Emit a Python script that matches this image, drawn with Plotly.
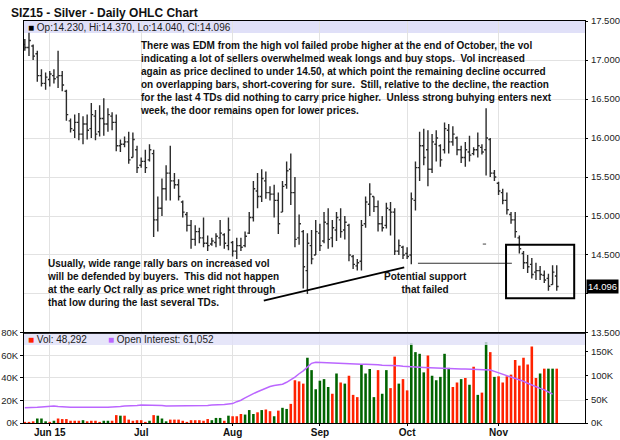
import numpy as np
import pandas as pd
import plotly.graph_objects as go

# ---------------- trading calendar ----------------
holidays = ["2015-05-25", "2015-07-03", "2015-09-07"]
dates = pd.bdate_range("2015-05-21", "2015-11-20", freq="C", holidays=holidays)

# ---------------- SIZ15 daily prices ----------------
open_ = [17.20, 17.16, 17.18, 17.08, 16.80, 16.70, 16.75, 16.80, 16.78, 16.80,
         16.60, 16.22, 16.10, 16.20, 16.05, 16.18, 16.12, 16.28, 16.08, 16.25,
         16.18, 16.28, 16.20, 15.90, 15.92, 15.95, 15.75, 15.85, 15.65, 15.70,
         15.72, 15.80, 14.95, 15.10, 15.35, 15.55, 15.45, 15.40, 15.18, 15.02,
         14.88, 14.70, 14.80, 14.72, 14.65, 14.64, 14.66, 14.72, 14.76, 14.62,
         14.66, 14.55, 14.62, 14.62, 14.78, 14.98, 15.32, 15.25, 15.45, 15.30,
         15.28, 15.20, 15.05, 15.40, 15.60, 15.30, 14.72, 14.80, 14.30, 14.62,
         14.50, 14.78, 14.68, 14.90, 14.72, 14.82, 14.95, 14.82, 14.88, 14.48,
         14.36, 14.42, 14.90, 15.15, 15.25, 15.12, 14.90, 14.88, 15.08, 15.05,
         14.55, 14.60, 14.52, 14.50, 15.20, 15.62, 15.90, 15.85, 15.60, 15.92,
         15.90, 15.85, 16.10, 15.95, 16.00, 15.85, 15.75, 15.82, 15.80, 15.85,
         15.88, 15.85, 15.98, 15.55, 15.42, 15.30, 15.20, 15.02, 14.95, 14.72,
         14.52, 14.40, 14.38, 14.28, 14.30, 14.24, 14.20, 14.12, 14.23]
high = [17.27, 17.35, 17.20, 17.12, 16.88, 16.84, 16.86, 16.88, 17.12, 16.86,
        16.62, 16.25, 16.30, 16.32, 16.28, 16.30, 16.45, 16.36, 16.42, 16.51,
        16.38, 16.33, 16.30, 15.98, 16.02, 16.08, 16.07, 15.90, 15.75, 15.85,
        15.92, 15.85, 15.25, 15.48, 15.65, 15.90, 15.55, 15.47, 15.20, 15.05,
        14.95, 14.88, 14.85, 14.98, 14.75, 14.72, 14.78, 14.95, 14.78, 14.98,
        14.68, 14.72, 14.72, 14.80, 15.05, 15.45, 15.55, 15.60, 15.57, 15.38,
        15.40, 15.30, 15.45, 15.70, 15.80, 15.50, 15.02, 14.82, 14.78, 14.82,
        14.95, 14.90, 15.05, 15.10, 14.95, 15.05, 15.10, 15.00, 14.90, 14.50,
        14.45, 14.95, 15.25, 15.42, 15.25, 15.20, 15.00, 15.17, 15.18, 15.10,
        14.70, 14.62, 14.60, 15.30, 15.70, 16.08, 16.12, 16.10, 16.05, 16.10,
        15.92, 16.20, 16.18, 16.15, 16.02, 15.90, 15.95, 16.03, 15.88, 16.07,
        15.92, 16.38, 16.00, 15.59, 15.44, 15.35, 15.30, 15.05, 15.05, 14.75,
        14.55, 14.50, 14.46, 14.40, 14.36, 14.30, 14.26, 14.37, 14.37]
low = [17.12, 17.05, 17.00, 16.72, 16.66, 16.62, 16.66, 16.70, 16.64, 16.60,
       16.22, 16.07, 16.00, 15.97, 15.92, 15.98, 16.00, 15.97, 16.02, 16.03,
       16.08, 16.10, 15.83, 15.82, 15.88, 15.67, 15.75, 15.55, 15.62, 15.55,
       15.70, 14.73, 14.80, 15.00, 15.20, 15.20, 15.35, 15.20, 14.98, 14.80,
       14.58, 14.62, 14.65, 14.60, 14.55, 14.62, 14.60, 14.62, 14.58, 14.56,
       14.48, 14.45, 14.55, 14.60, 14.77, 14.93, 15.10, 15.18, 15.22, 15.20,
       14.98, 14.77, 15.05, 15.35, 15.14, 14.60, 14.63, 14.07, 14.00, 14.38,
       14.50, 14.55, 14.65, 14.58, 14.60, 14.68, 14.72, 14.70, 14.42, 14.32,
       14.30, 14.30, 14.85, 15.00, 15.05, 14.80, 14.80, 14.84, 14.75, 14.50,
       14.50, 14.45, 14.45, 14.38, 15.07, 15.45, 15.65, 15.38, 15.55, 15.70,
       15.63, 15.80, 15.80, 15.90, 15.78, 15.68, 15.63, 15.70, 15.78, 15.75,
       15.79, 15.52, 15.50, 15.45, 15.27, 15.15, 15.02, 14.90, 14.72, 14.52,
       14.32, 14.27, 14.20, 14.18, 14.18, 14.14, 14.04, 14.12, 14.04]
close = [17.16, 17.25, 17.05, 16.80, 16.70, 16.78, 16.82, 16.76, 16.80, 16.68,
         16.30, 16.12, 16.20, 16.05, 16.18, 16.10, 16.30, 16.05, 16.25, 16.18,
         16.30, 16.20, 15.90, 15.92, 15.95, 15.72, 15.98, 15.62, 15.70, 15.62,
         15.85, 14.95, 15.10, 15.35, 15.55, 15.45, 15.40, 15.25, 15.05, 14.88,
         14.70, 14.80, 14.72, 14.65, 14.62, 14.68, 14.74, 14.78, 14.65, 14.82,
         14.55, 14.62, 14.60, 14.74, 14.98, 15.35, 15.25, 15.48, 15.30, 15.28,
         15.20, 14.90, 15.38, 15.58, 15.30, 14.70, 14.90, 14.35, 14.65, 14.45,
         14.80, 14.62, 14.92, 14.70, 14.85, 14.98, 14.80, 14.92, 14.50, 14.38,
         14.40, 14.88, 15.18, 15.28, 15.12, 14.90, 14.85, 15.10, 15.05, 14.55,
         14.62, 14.50, 14.48, 15.22, 15.62, 15.90, 15.75, 15.60, 15.95, 16.00,
         15.72, 16.12, 15.95, 16.05, 15.85, 15.75, 15.85, 15.78, 15.85, 15.90,
         15.82, 16.00, 15.55, 15.50, 15.32, 15.20, 15.08, 14.95, 14.80, 14.58,
         14.40, 14.35, 14.25, 14.30, 14.25, 14.18, 14.10, 14.28, 14.096]

# ---------------- volume (thousands of contracts) ----------------
vol_k = [1.0, 1.0, 1.5, 4.0, 4.0, 1.5, 1.0, 2.0, 4.0, 3.5,
         3.5, 2.0, 2.0, 2.0, 2.5, 1.5, 2.0, 2.0, 1.0, 2.0,
         2.0, 2.0, 7.0, 6.5, 6.5, 3.0, 2.0, 2.5, 2.5, 1.0,
         2.0, 7.0, 6.5, 4.0, 1.5, 3.0, 3.0, 3.0, 2.0, 1.0,
         2.5, 2.5, 2.5, 2.0, 3.5, 2.5, 4.5, 4.5, 2.0, 6.5,
         6.0, 6.0, 8.0, 7.5, 11.5, 8.0, 9.5, 11.5, 12.0, 10.5,
         6.0, 11.0, 13.5, 12.5, 17.0, 38.0, 37.0, 35.0, 58.0, 47.0,
         30.0, 37.6, 39.0, 32.0, 26.0, 44.0, 36.0, 35.0, 42.0, 25.0,
         23.0, 52.0, 44.0, 48.0, 23.0, 47.0, 26.0, 47.0, 31.0, 59.0,
         35.0, 39.0, 29.0, 71.0, 63.0, 61.5, 45.0, 60.0, 42.0, 38.0,
         41.0, 61.5, 49.0, 32.0, 36.0, 39.0, 40.0, 34.0, 50.0, 25.0,
         27.0, 72.0, 63.0, 41.0, 41.5, 36.0, 41.5, 43.0, 56.0, 51.0,
         58.0, 52.0, 68.0, 40.0, 44.0, 48.3, 48.3, 48.3, 48.292]
# g = up day, r = down day
vol_dir = list("rrrgggrgrr" "rrrrgrrrrg" "grrgrrrrrr" "grgggrrrrr"
               "rrrrrgggrg" "rrrgggrgrr" "grggrrrrgg" "ggggrgrgrr"
               "rggggrggrr" "grrggggrgg" "gggrrgrgrg" "rgrgrrrrrr"
               "rrrrgrggr")

# ---------------- open interest (thousands) ----------------
oi_k = [32, 32, 32, 33, 34, 35, 36, 36, 35, 34, 33,
        33, 33, 33, 32, 32, 32, 32, 32, 33, 33, 34, 34, 35, 36, 36, 37, 37,
        38, 38, 38, 37, 37, 37, 36, 36, 36, 36, 36, 36, 36, 36, 37, 37, 37,
        38, 38, 39, 39, 40, 41,
        45, 48, 53, 58, 62, 66, 70, 74, 77, 79, 80, 82, 86, 91, 97, 104, 110, 118, 126,
        128, 127.5, 127, 127, 127, 126.5, 126, 126, 125, 125,
        124.5, 124, 124, 124, 123, 123, 122, 122, 121.5, 121,
        121, 120, 119, 118, 118, 117.5, 117, 116.5, 116, 116,
        115.5, 115, 115, 115, 114.5, 114, 114, 113.5, 113, 112.5,
        112, 113, 112, 109, 106, 104, 101, 98, 95, 91,
        88, 84, 80, 77, 73, 70, 66, 61.052, None]

n = len(close)
x = list(range(n))
volume = [int(round(v * 1000)) for v in vol_k]
oi = [None if v is None else int(round(v * 1000)) for v in oi_k]
oi_last = [v for v in oi if v is not None][-1]

# month-start ticks
month_ticks, month_text = [], []
for i, d in enumerate(dates[:n]):
    if i > 0 and d.month != dates[i - 1].month:
        month_ticks.append(i)
        month_text.append(d.strftime("%b") if month_ticks[:-1] else d.strftime("%b %y"))

RED = "#FF2200"
GREEN = "#006400"
PURPLE = "#BB66FF"
FONT = "Liberation Sans, Arial, sans-serif"
GRID = "#E2E2E2"
BAND = "#E0E0F8"
TICKFONT = dict(family=FONT, size=9.5, color="#222222")

fig = go.Figure()

fig.add_trace(go.Ohlc(
    x=x, open=open_, high=high, low=low, close=close,
    increasing=dict(line=dict(color="#2B2B2B", width=1.4)),
    decreasing=dict(line=dict(color="#2B2B2B", width=1.4)),
    tickwidth=0.45, xaxis="x", yaxis="y", hoverinfo="skip",
))

fig.add_trace(go.Bar(
    x=x, y=volume, width=0.62,
    marker=dict(color=[GREEN if d == "g" else RED for d in vol_dir], line=dict(width=0)),
    xaxis="x2", yaxis="y2", hoverinfo="skip",
))

fig.add_trace(go.Scatter(
    x=x, y=oi, mode="lines", line=dict(color=PURPLE, width=1.5),
    xaxis="x2", yaxis="y3", hoverinfo="skip", connectgaps=False,
))

VOL_TOP = 0.2239
xrange = [-0.2, 134.8]
price_ticks = [13.5 + 0.5 * k for k in range(9)]
price_text = ["" if abs(v - 14.0) < 1e-9 else f"{v:.3f}" for v in price_ticks]

axis_common = dict(showline=True, linecolor="#000000", linewidth=1, mirror=True,
                   gridcolor=GRID, gridwidth=1, zeroline=False)

fig.update_layout(
    width=620, height=440,
    margin=dict(l=24, r=35, t=21, b=17, autoexpand=False),
    paper_bgcolor="white", plot_bgcolor="white",
    showlegend=False,
    font=dict(family=FONT, size=10, color="#222222"),
    xaxis=dict(domain=[0, 1], anchor="y", range=xrange, tickvals=month_ticks,
               showticklabels=False, ticks="", showgrid=True,
               rangeslider=dict(visible=False), **axis_common),
    xaxis2=dict(domain=[0, 1], anchor="y2", range=xrange, matches="x",
                tickvals=month_ticks,
                ticktext=[f"<b>{t}</b>" for t in month_text],
                tickfont=dict(family=FONT, size=10, color="#111111"),
                ticks="outside", ticklen=2, tickcolor="#000", showgrid=True,
                ticklabelstandoff=-2,
                **axis_common),
    yaxis=dict(domain=[VOL_TOP, 1], anchor="x", side="right", range=[13.5, 17.5],
               tickvals=price_ticks, ticktext=price_text, ticks="outside",
               ticklen=2, tickcolor="#000", tickfont=TICKFONT,
               ticklabelstandoff=1, showgrid=True, **axis_common),
    yaxis2=dict(domain=[0, VOL_TOP], anchor="x2", side="left", range=[0, 80000],
                tickvals=[0, 20000, 40000, 60000, 80000],
                ticktext=["0K", "20K", "40K", "60K", "80K"], ticks="outside",
                ticklen=3, tickcolor="#000", tickfont=TICKFONT,
                showgrid=True, **axis_common),
    yaxis3=dict(overlaying="y2", anchor="x2", side="right", range=[0, 190000],
                tickvals=[0, 50000, 100000, 150000],
                ticktext=["0K", "50K", "100K", "150K"], ticks="outside",
                ticklen=2, tickcolor="#000", tickfont=TICKFONT,
                ticklabelstandoff=1,
                showgrid=False, showline=False, zeroline=False),
)

def py(pix):
    """paper y from a pixel row of the 620x440 canvas"""
    return (423 - pix) / 402

def px(pix):
    return (pix - 24) / 561

shapes = [
    # panel header bands
    dict(type="rect", xref="paper", yref="paper", x0=0, x1=1, y0=py(33), y1=1,
         fillcolor=BAND, line=dict(width=0), layer="below"),
    dict(type="rect", xref="paper", yref="paper", x0=0, x1=1, y0=py(345), y1=VOL_TOP,
         fillcolor=BAND, opacity=0.8, line=dict(width=0), layer="above"),
    # separator between panels
    dict(type="line", xref="paper", yref="paper", x0=0, x1=1, y0=VOL_TOP, y1=VOL_TOP,
         line=dict(color="#000", width=1.5)),
    # rising support line from the August low
    dict(type="line", xref="x", yref="y", x0=57.5, y0=13.915, x1=91.3, y1=14.34,
         line=dict(color="#000", width=1.8)),
    # support level carried forward
    dict(type="line", xref="x", yref="y", x0=94.6, y0=14.394, x1=117.2, y1=14.394,
         line=dict(color="#333", width=1)),
    dict(type="line", xref="x", yref="y", x0=110.2, y0=14.64, x1=111.0, y1=14.64,
         line=dict(color="#444", width=1)),
    # box around the last few sessions
    dict(type="rect", xref="x", yref="y", x0=115.8, x1=132.2, y0=13.946, y1=14.63,
         line=dict(color="#000", width=2), fillcolor="rgba(0,0,0,0)"),
]
fig.update_layout(shapes=shapes)

note_top = ("There was EDM from the high vol failed probe higher at the end of October, the vol<br>"
            "indicating a lot of sellers overwhelmed weak longs and buy stops.  Vol increased<br>"
            "again as price declined to under 14.50, at which point the remaining decline occurred<br>"
            "on overlapping bars, short-covering for sure.  Still, relative to the decline, the reaction<br>"
            "for the last 4 TDs did nothing to carry price higher.  Unless strong buhying enters next<br>"
            "week, the door remains open for lower prices.")
note_low = ("Usually, wide range rally bars on increased vol<br>"
            "will be defended by buyers.  This did not happen<br>"
            "at the early Oct rally as price wnet right through<br>"
            "that low during the last several TDs.")

ohlc_text = (f'<span style="color:#000">■</span> Op:{open_[-1]:.3f}, Hi:{high[-1]:.3f}, '
             f'Lo:{low[-1]:.3f}, Cl:{close[-1]:.3f}')
vol_text = f'<span style="color:{RED}">■</span> Vol: {volume[-1]:,}'
oi_text = f'<span style="color:{PURPLE}">■</span> Open Interest: {oi_last:,}'

annotations = [
    dict(text="<b>SIZ15 - Silver - Daily OHLC Chart</b>", xref="paper", yref="paper",
         x=px(9), y=py(12.5), xanchor="left", yanchor="middle", showarrow=False,
         font=dict(family=FONT, size=12, color="#111")),
    dict(text=ohlc_text, xref="paper", yref="paper", x=px(26), y=py(27.5),
         xanchor="left", yanchor="middle", showarrow=False,
         font=dict(family=FONT, size=10, color="#222")),
    dict(text=vol_text, xref="paper", yref="paper", x=px(26), y=py(339),
         xanchor="left", yanchor="middle", showarrow=False,
         font=dict(family=FONT, size=10, color="#222")),
    dict(text=oi_text, xref="paper", yref="paper", x=px(106), y=py(339),
         xanchor="left", yanchor="middle", showarrow=False,
         font=dict(family=FONT, size=10, color="#222")),
    dict(text=f"<b>{note_top}</b>", xref="paper", yref="paper", x=px(138), y=py(38),
         xanchor="left", yanchor="top", align="left", showarrow=False,
         font=dict(family=FONT, size=10, color="#111")),
    dict(text=f"<b>{note_low}</b>", xref="paper", yref="paper", x=px(45), y=py(256),
         xanchor="left", yanchor="top", align="left", showarrow=False,
         font=dict(family=FONT, size=10, color="#111")),
    dict(text="<b>Potential support<br>that failed</b>", xref="paper", yref="paper",
         x=px(425), y=py(268.5), xanchor="center", yanchor="top", align="center",
         showarrow=False, font=dict(family=FONT, size=10, color="#111")),
    dict(text=f"{close[-1]:.3f}", xref="paper", yref="y", x=1, y=close[-1],
         xanchor="left", yanchor="middle", xshift=1, showarrow=False,
         bgcolor="#000000", borderpad=1,
         font=dict(family=FONT, size=9.5, color="#FFFFFF")),
]
fig.update_layout(annotations=annotations)

fig.write_html("out.html")
